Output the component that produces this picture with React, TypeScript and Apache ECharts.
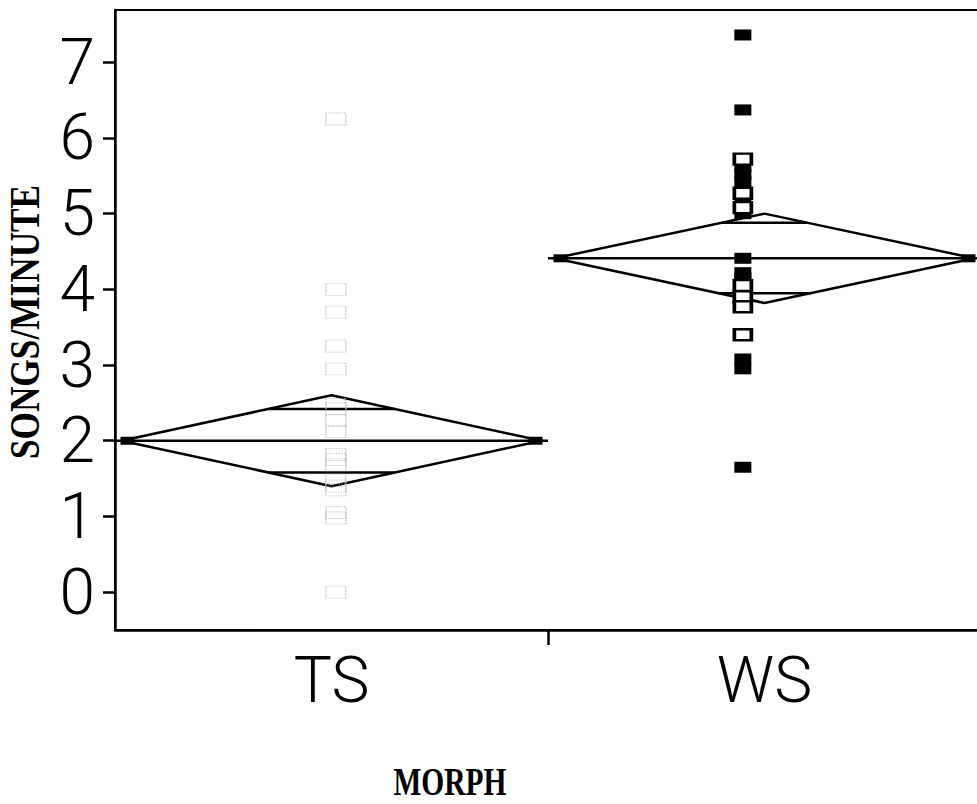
import React, { useEffect, useRef } from "react";
import * as echarts from "echarts";

const groupNames = ["TS", "WS"];
const groupCenters = [0.5, 1.5];
const groupBounds = [[0, 1], [1, 2]];
const yTicks = [0, 1, 2, 3, 4, 5, 6, 7];

const means = [2.0, 4.41];
const diamondUpper = [2.6, 5.0];
const diamondLower = [1.4, 3.82];
const overlapUpper = [2.42, 4.88];
const overlapLower = [1.58, 3.95];

const tsValues = [6.25, 4.0, 3.7, 3.25, 2.95, 2.48, 2.42, 2.27, 2.12, 1.82, 1.75, 1.68, 1.48, 1.4, 1.35, 1.05, 0.98, 0];
const wsFilled = [7.36, 6.37, 5.62, 5.52, 5.42, 5.18, 5.0, 4.41, 4.22, 4.15, 3.97, 3.08, 2.95, 1.65];
const wsHollow = [5.72, 5.27, 5.08, 4.05, 3.9, 3.77, 3.4];

const pointX = [0.51, 1.45];

export default function App() {
  const ref = useRef<HTMLDivElement>(null);
  useEffect(() => {
    if (!ref.current) return;
    const chart = echarts.init(ref.current, undefined, { renderer: "svg" });
    const halfW = 0.485;
    const black = { color: "#000", width: 2.5 };
    const series: any[] = [];
    groupCenters.forEach((c, i) => {
      series.push({
        type: "line",
        data: [
          [c - halfW, means[i]],
          [c, diamondUpper[i]],
          [c + halfW, means[i]],
          [c, diamondLower[i]],
          [c - halfW, means[i]],
        ],
        symbol: "none",
        lineStyle: black,
        z: 3,
      });
      series.push({
        type: "line",
        data: [
          [groupBounds[i][0], means[i]],
          [groupBounds[i][1], means[i]],
        ],
        symbol: "none",
        lineStyle: black,
        z: 3,
      });
      const ov = (h: number, tip: number) => halfW * (1 - Math.abs(h - means[i]) / Math.abs(tip - means[i]));
      const wu = ov(overlapUpper[i], diamondUpper[i]);
      const wl = ov(overlapLower[i], diamondLower[i]);
      series.push({
        type: "line",
        data: [[c - wu, overlapUpper[i]], [c + wu, overlapUpper[i]]],
        symbol: "none",
        lineStyle: black,
        z: 3,
      });
      series.push({
        type: "line",
        data: [[c - wl, overlapLower[i]], [c + wl, overlapLower[i]]],
        symbol: "none",
        lineStyle: black,
        z: 3,
      });
      series.push({
        type: "scatter",
        data: [[c - halfW, means[i]]],
        symbol: "rect",
        symbolSize: [14, 8],
        symbolOffset: [6, 0],
        itemStyle: { color: "#000", opacity: 1 },
        z: 4,
      });
      series.push({
        type: "scatter",
        data: [[c + halfW, means[i]]],
        symbol: "rect",
        symbolSize: [14, 8],
        symbolOffset: [-6, 0],
        itemStyle: { color: "#000", opacity: 1 },
        z: 4,
      });
    });
    series.push({
      type: "scatter",
      data: tsValues.map((v) => [pointX[0], v]),
      symbol: "rect",
      symbolSize: [20, 12],
      itemStyle: { color: "rgba(255,255,255,0)", borderColor: "#b5b5b5", borderWidth: 1, borderType: "dotted", opacity: 1 },
      z: 5,
    });
    series.push({
      type: "scatter",
      data: wsFilled.map((v) => [pointX[1], v]),
      symbol: "rect",
      symbolSize: [17, 11],
      itemStyle: { color: "#000", opacity: 1 },
      z: 5,
    });
    series.push({
      type: "scatter",
      data: wsHollow.map((v) => [pointX[1], v]),
      symbol: "rect",
      symbolSize: [17, 11],
      itemStyle: { color: "#fff", borderColor: "#000", borderWidth: 3, opacity: 1 },
      z: 6,
    });

    const labelFont = "Roboto, 'Liberation Sans', sans-serif";
    chart.setOption({
      animation: false,
      backgroundColor: "#fff",
      grid: {
        left: 115,
        top: 10,
        width: 866,
        height: 620,
        outerBoundsMode: "none",
        containLabel: false,
        show: true,
        borderColor: "#000",
        borderWidth: 2,
      },
      xAxis: {
        type: "value",
        min: 0,
        max: 2,
        splitLine: { show: false },
        axisLine: { show: true, onZero: false, lineStyle: black },
        axisTick: { show: true, customValues: [1], length: 15, lineStyle: black },
        axisLabel: {
          customValues: groupCenters,
          formatter: (v: number) => groupNames[Math.floor(v)],
          fontSize: 64,
          fontWeight: 300,
          color: "#000",
          fontFamily: labelFont,
          margin: 18,
        },
      },
      yAxis: {
        type: "value",
        min: -0.5,
        max: 7.69,
        splitLine: { show: false },
        axisLine: { show: true, onZero: false, lineStyle: black },
        axisTick: { show: true, customValues: yTicks, length: 12, lineStyle: black },
        axisLabel: {
          customValues: yTicks,
          fontSize: 64,
          fontWeight: 300,
          color: "#000",
          fontFamily: labelFont,
          margin: 20,
        },
      },
      graphic: [
        {
          type: "text",
          x: 450,
          y: 781,
          scaleX: 0.72,
          style: {
            text: "MORPH",
            font: "bold 41px 'Liberation Serif', serif",
            fill: "#000",
            align: "center",
            verticalAlign: "middle",
          },
        },
        {
          type: "text",
          x: 25,
          y: 322,
          rotation: Math.PI / 2,
          scaleX: 0.82,
          style: {
            text: "SONGS/MINUTE",
            font: "bold 43px 'Liberation Serif', serif",
            fill: "#000",
            align: "center",
            verticalAlign: "middle",
          },
        },
      ],
      series,
    });
    return () => chart.dispose();
  }, []);
  return <div ref={ref} style={{ position: "fixed", left: 0, top: 0, width: 977, height: 804 }} />;
}
